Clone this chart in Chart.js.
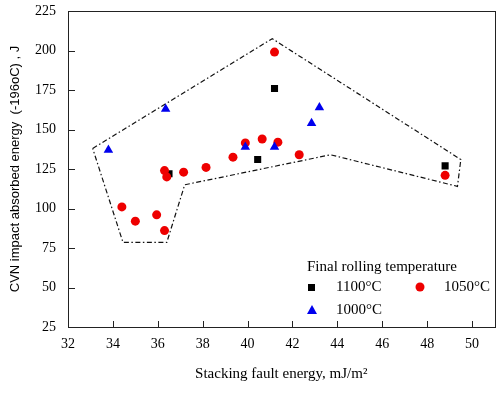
<!DOCTYPE html>
<html>
<head>
<meta charset="utf-8">
<script src="https://cdn.jsdelivr.net/npm/chart.js@4/dist/chart.umd.min.js"></script>
<style>
  html, body { margin: 0; padding: 0; background: #fff; }
  #wrap { width: 500px; height: 394px; }
</style>
</head>
<body>
<div id="wrap"><canvas id="sfeChart"></canvas></div>
<script>
// Daten
const xTicks = [32, 34, 36, 38, 40, 42, 44, 46, 48, 50];
const yTicks = [25, 50, 75, 100, 125, 150, 175, 200, 225];

// 1100 °C (schwarze Quadrate)
const sfe1100 = [36.5, 40.45, 41.2, 48.8];
const cvn1100 = [122, 131, 176, 127];

// 1050 °C (rote Kreise)
const sfe1050 = [34.4, 35.0, 35.95, 36.3, 36.3, 36.4, 37.15, 38.15, 39.35, 39.9, 40.65, 41.2, 41.35, 42.3, 48.8];
const cvn1050 = [101, 92, 96, 86, 124, 120, 123, 126, 132.5, 141.5, 144, 199, 142, 134, 121];

// 1000 °C (blaue Dreiecke)
const sfe1000 = [33.8, 36.35, 39.9, 41.2, 42.85, 43.2];
const cvn1000 = [137, 163, 139, 139, 154, 164];

// Umrandung (strichpunktiert)
const hullX = [33.1, 41.1, 49.5, 49.35, 43.7, 37.2, 36.4, 34.45, 33.1];
const hullY = [138, 207.5, 131, 114, 134, 115, 78.5, 78.5, 138];

const toPoints = (xs, ys) => xs.map((x, i) => ({ x: x, y: ys[i] }));

const serif = "'Liberation Serif', 'Times New Roman', serif";

// Rahmen, Ticks nach innen und Legende
const framePlugin = {
    id: "frame",
    afterDraw(chart) {
        const c = chart.ctx;
        const a = chart.chartArea;
        const xs = chart.scales.x;
        const ys = chart.scales.y;
        c.save();
        c.setLineDash([]);
        c.fillStyle = "#222";
        const l = Math.round(a.left), r = Math.round(a.right);
        const t = Math.round(a.top), b = Math.round(a.bottom);
        c.fillRect(l, t, r - l, 1);
        c.fillRect(l, b, r - l + 1, 1);
        c.fillRect(l, t, 1, b - t);
        c.fillRect(r, t, 1, b - t);
        xTicks.forEach(v => {
            const px = Math.round(xs.getPixelForValue(v));
            c.fillRect(px, b - 6, 1, 6);
        });
        yTicks.forEach(v => {
            const py = Math.round(ys.getPixelForValue(v));
            c.fillRect(l, py, 7, 1);
        });

        // Legende
        const lx = r - 188;
        const ly = b - 60;
        c.fillStyle = "#000";
        c.font = "15px " + serif;
        c.textBaseline = "middle";
        c.textAlign = "left";
        c.fillText("Final rolling temperature", lx, ly);
        c.fillText("1100°C", lx + 29, ly + 20);
        c.fillText("1050°C", lx + 137, ly + 20);
        c.fillText("1000°C", lx + 29, ly + 43);
        c.fillRect(lx + 1, ly + 17, 7, 7);
        c.fillStyle = "#ee0000";
        c.beginPath();
        c.arc(lx + 113, ly + 20, 4.5, 0, Math.PI * 2);
        c.fill();
        c.fillStyle = "#0000ee";
        c.beginPath();
        c.moveTo(lx + 5, ly + 38);
        c.lineTo(lx + 10, ly + 47);
        c.lineTo(lx, ly + 47);
        c.closePath();
        c.fill();
        c.restore();
    }
};

const sfeChart = new Chart(document.getElementById("sfeChart"), {
    type: "scatter",
    data: {
        datasets: [
            {
                label: "hull",
                data: toPoints(hullX, hullY),
                showLine: true,
                borderColor: "#111",
                borderWidth: 1.2,
                borderDash: [5, 2.5, 1.5, 2.5],
                pointRadius: 0,
                fill: false,
                order: 3
            },
            {
                label: "1100°C",
                data: toPoints(sfe1100, cvn1100),
                pointStyle: "rect",
                pointRadius: 5,
                backgroundColor: "#000",
                borderColor: "#000",
                borderWidth: 0,
                order: 2
            },
            {
                label: "1050°C",
                data: toPoints(sfe1050, cvn1050),
                pointStyle: "circle",
                pointRadius: 4.5,
                backgroundColor: "#ee0000",
                borderColor: "#ee0000",
                borderWidth: 0,
                order: 1
            },
            {
                label: "1000°C",
                data: toPoints(sfe1000, cvn1000),
                pointStyle: "triangle",
                pointRadius: 5.5,
                backgroundColor: "#0000ee",
                borderColor: "#0000ee",
                borderWidth: 0,
                order: 0
            }
        ]
    },
    options: {
        responsive: true,
        maintainAspectRatio: false,
        animation: false,
        events: [],
        layout: { padding: { left: 0, right: 4, top: 11, bottom: 0 } },
        plugins: {
            legend: { display: false },
            tooltip: { enabled: false }
        },
        scales: {
            x: {
                type: "linear",
                min: 32,
                max: 51,
                afterBuildTicks: (scale) => { scale.ticks = xTicks.map(v => ({ value: v })); },
                afterFit: (scale) => { scale.height = 67; },
                grid: { display: false, drawTicks: false },
                border: { display: false },
                ticks: { color: "#000", font: { family: serif, size: 14 }, padding: 9, maxRotation: 0 },
                title: {
                    display: true,
                    text: "Stacking fault energy, mJ/m²",
                    color: "#000",
                    font: { family: serif, size: 15 },
                    padding: { top: 10, bottom: 11 }
                }
            },
            y: {
                type: "linear",
                min: 25,
                max: 225,
                afterBuildTicks: (scale) => { scale.ticks = yTicks.map(v => ({ value: v })); },
                afterFit: (scale) => {
                    scale.width = 68;
                    scale.paddingTop = 0;
                    scale.paddingBottom = 0;
                },
                grid: { display: false, drawTicks: false },
                border: { display: false },
                ticks: { color: "#000", font: { family: serif, size: 14 }, padding: 12 },
                title: {
                    display: true,
                    text: "CVN impact absorbed energy  (-196oC) , J",
                    color: "#000",
                    font: { family: "'Liberation Sans', Arial, sans-serif", size: 13 },
                    padding: { top: 8, bottom: 8 }
                }
            }
        }
    },
    plugins: [framePlugin]
});
</script>
</body>
</html>
